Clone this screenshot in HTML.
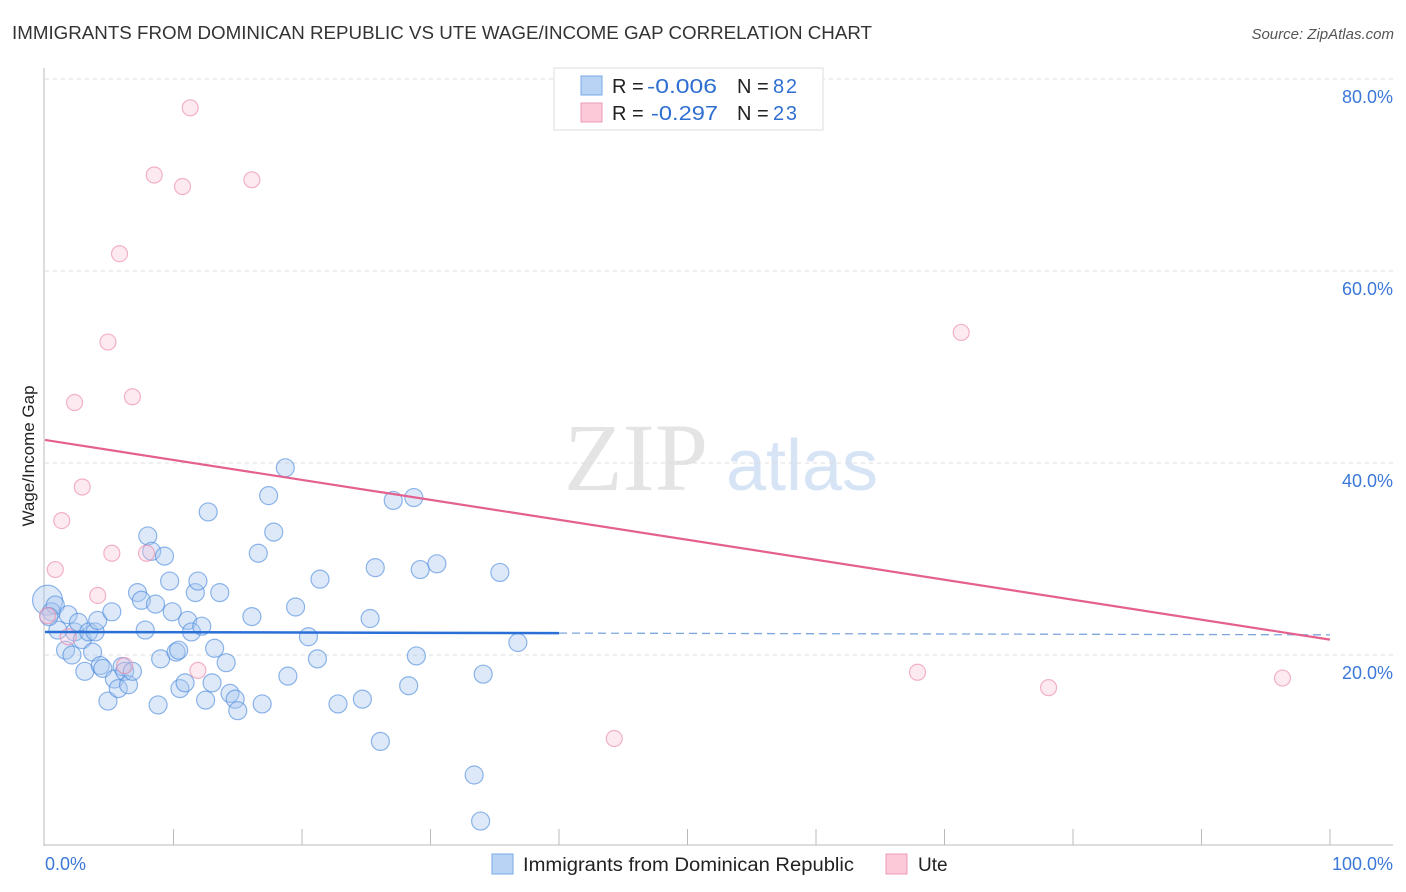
<!DOCTYPE html>
<html><head><meta charset="utf-8"><style>
body{margin:0;background:#fff;font-family:"Liberation Sans",sans-serif;}
svg{display:block}
</style></head><body>
<svg id="chart" width="1406" height="892" xmlns="http://www.w3.org/2000/svg">
<text x="12" y="39" font-size="18" fill="#333" textLength="860" lengthAdjust="spacingAndGlyphs">IMMIGRANTS FROM DOMINICAN REPUBLIC VS UTE WAGE/INCOME GAP CORRELATION CHART</text>
<text x="1394" y="39" font-size="15" fill="#555" text-anchor="end" font-style="italic">Source: ZipAtlas.com</text>
<text x="636" y="490" font-size="96" fill="#e4e4e4" font-family="Liberation Serif,serif" text-anchor="middle">ZIP</text>
<text x="802" y="490" font-size="72" fill="#d6e4f5" text-anchor="middle">atlas</text>
<g id="grid"></g>
<g id="axes"></g>
<g id="pts"></g>
<g id="lines"></g>
<text x="34" y="456" font-size="17" fill="#222" text-anchor="middle" transform="rotate(-90 34 456)">Wage/Income Gap</text>
<g>
<rect x="554" y="68" width="269" height="62" fill="#fff" stroke="#ddd"/>
<rect x="581" y="76" width="21" height="19" fill="#b9d3f5" stroke="#7aa8e8"/>
<rect x="581" y="103" width="21" height="19" fill="#fbc9d8" stroke="#ee9ab5"/>
<text x="612" y="93" font-size="20" fill="#222">R = <tspan x="647" fill="#2f6fd0" textLength="70" lengthAdjust="spacingAndGlyphs">-0.006</tspan><tspan x="737">N = </tspan><tspan x="773" fill="#2f6fd0" textLength="24">82</tspan></text>
<text x="612" y="120" font-size="20" fill="#222">R = <tspan x="651" fill="#2f6fd0" textLength="67" lengthAdjust="spacingAndGlyphs">-0.297</tspan><tspan x="737">N = </tspan><tspan x="773" fill="#2f6fd0" textLength="24">23</tspan></text>
</g>
<g>
<rect x="492" y="854" width="21" height="20" fill="#b9d3f5" stroke="#7aa8e8"/>
<text x="523" y="871" font-size="19" fill="#222" textLength="331" lengthAdjust="spacingAndGlyphs">Immigrants from Dominican Republic</text>
<rect x="886" y="854" width="21" height="20" fill="#fbc9d8" stroke="#ee9ab5"/>
<text x="918" y="871" font-size="19" fill="#222">Ute</text>
</g>
</svg>
<script>
const yTicks=[20,40,60,80];
const yTickLabels=["20.0%","40.0%","60.0%","80.0%"];
const xTickLabels=["0.0%","100.0%"];
const blueX=[0.2,0.5,0.8,1.0,1.6,1.8,2.1,2.3,2.6,2.9,3.1,3.4,3.7,3.9,4.1,4.3,4.5,4.9,5.2,5.4,5.7,6.0,6.2,6.5,6.8,7.2,7.5,7.8,8.0,8.3,8.6,8.8,9.0,9.3,9.7,9.9,10.2,10.4,10.5,10.9,11.1,11.4,11.7,11.9,12.2,12.5,12.7,13.0,13.2,13.6,14.1,14.4,14.8,15.0,16.1,16.6,16.9,17.4,17.8,18.7,18.9,19.5,20.5,21.2,21.4,22.8,24.7,25.3,25.7,26.1,27.1,28.3,28.7,28.9,29.2,30.5,33.4,33.9,34.1,35.4,36.8,0.3];
const blueY=[25.7,24.5,25.2,22.6,20.5,24.2,20.0,22.4,23.4,21.6,18.3,22.4,20.3,22.4,23.6,18.9,18.6,15.2,24.5,17.5,16.5,18.8,18.3,16.9,18.3,26.5,25.7,22.6,32.4,30.8,25.3,14.8,19.6,30.3,27.7,24.5,20.3,20.5,16.5,17.1,23.6,22.4,26.5,27.7,23.0,15.3,34.9,17.1,20.7,26.5,19.2,16.0,15.4,14.2,24.0,30.6,14.9,36.6,32.8,39.5,17.8,25.0,21.9,19.6,27.9,14.9,15.4,23.8,29.1,11.0,36.1,16.8,36.4,19.9,28.9,29.5,7.5,2.7,18.0,28.6,21.3,24.0];
const pinkX=[0.2,0.8,1.3,1.8,2.3,2.9,4.1,4.9,5.2,5.8,6.2,6.8,7.9,8.5,10.7,11.3,11.9,16.1,44.3,67.9,71.3,78.1,96.3];
const pinkY=[24.1,28.9,34.0,21.9,46.3,37.5,26.2,52.6,30.6,61.8,18.9,46.9,30.6,70.0,68.8,77.0,18.4,69.5,11.3,18.2,53.6,16.6,17.6];
const blueTrend=[22.4,22.1];
const pinkTrend=[42.4,21.6];
const blueSolidEnd=40;
const X=v=>45+v*12.85, Y=v=>847-v*9.6;
const NS="http://www.w3.org/2000/svg";
function mk(tag,attrs,parent){const e=document.createElementNS(NS,tag);for(const k in attrs)e.setAttribute(k,attrs[k]);document.getElementById(parent).appendChild(e);return e;}
yTicks.forEach((t,i)=>{
 const l=mk('line',{x1:45,x2:1393,y1:Y(t),y2:Y(t),stroke:'#ddd','stroke-dasharray':'4,4'},'grid');
 
 
 const tx=mk('text',{x:1393,y:Y(t)+24,'font-size':18,fill:'#3b78d8','text-anchor':'end'},'grid');
 tx.textContent=yTickLabels[i];
 
 
});
let a=mk('line',{x1:44,x2:44,y1:68,y2:846,stroke:'#bbb'},'axes');

a=mk('line',{x1:44,x2:1393,y1:845,y2:845,stroke:'#bbb'},'axes');

for(let i=1;i<=10;i++){const t=mk('line',{x1:X(i*10),x2:X(i*10),y1:829,y2:845,stroke:'#bbb'},'axes');
 
 }
[[0,'start',45],[100,'end',1393]].forEach((d,i)=>{const t=mk('text',{x:d[2],y:870,'font-size':18,fill:'#3b78d8','text-anchor':d[1]},'axes');t.textContent=xTickLabels[i];
 
 });
blueX.forEach((x,i)=>{const c=mk('circle',{cx:X(x),cy:Y(blueY[i]),r:i==0?15:9,fill:'rgba(170,200,240,0.4)',stroke:'rgba(70,135,220,0.6)','stroke-width':1.2},'pts');
 
 });
pinkX.forEach((x,i)=>{const c=mk('circle',{cx:X(x),cy:Y(pinkY[i]),r:8,fill:'rgba(250,195,215,0.35)',stroke:'rgba(235,140,170,0.65)','stroke-width':1.2},'pts');
 
 });
const bAt=x=>blueTrend[0]+(blueTrend[1]-blueTrend[0])*x/100;
let l=mk('line',{x1:X(0),y1:Y(bAt(0)),x2:X(blueSolidEnd),y2:Y(bAt(blueSolidEnd)),stroke:'#2a6fd6','stroke-width':2.5},'lines');

l=mk('line',{x1:X(blueSolidEnd),y1:Y(bAt(blueSolidEnd)),x2:X(100),y2:Y(bAt(100)),stroke:'#7ea6dd','stroke-width':1.3,'stroke-dasharray':'8,5'},'lines');

l=mk('line',{x1:X(0),y1:Y(pinkTrend[0]),x2:X(100),y2:Y(pinkTrend[1]),stroke:'#e4608f','stroke-width':2.2},'lines');

</script>
</body></html>
